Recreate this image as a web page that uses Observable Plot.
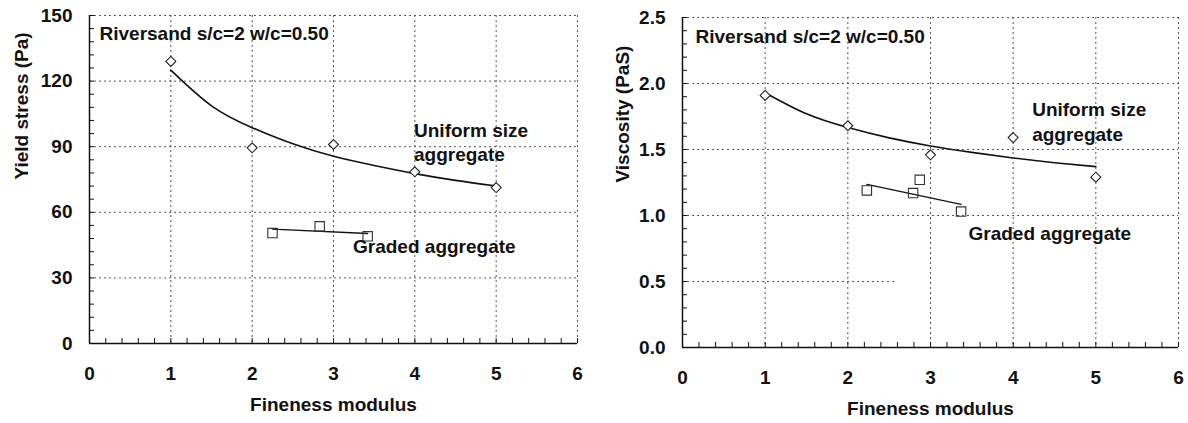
<!DOCTYPE html>
<html>
<head>
<meta charset="utf-8">
<script src="https://cdn.jsdelivr.net/npm/d3@7"></script>
<script src="https://cdn.jsdelivr.net/npm/@observablehq/plot@0.6"></script>
<style>
  html, body { margin: 0; padding: 0; background: #fff; }
  #wrap { display: flex; width: 1188px; height: 423px; }
</style>
</head>
<body>
<div id="wrap"></div>
<script>
// ---- data ----
const xTicks = [0, 1, 2, 3, 4, 5, 6];
const xMinor = d3.range(0, 6.001, 0.2);
const yieldTicks = [0, 30, 60, 90, 120, 150];
const yieldMinor = d3.range(0, 150.001, 6);
const viscTicks = [0, 0.5, 1.0, 1.5, 2.0, 2.5];
const viscMinor = d3.range(0, 2.5001, 0.1);

const uniformFM = [1, 2, 3, 4, 5];
const uniformYield = [129, 89.5, 91, 78.5, 71.3];
const uniformVisc = [1.91, 1.68, 1.46, 1.59, 1.29];

const gradedFMYield = [2.25, 2.83, 3.42];
const gradedYield = [50.5, 53.6, 49.0];
const gradedFMVisc = [2.23, 2.79, 2.87, 3.37];
const gradedVisc = [1.19, 1.17, 1.27, 1.03];

const fitFM = [1, 1.5, 2, 2.5, 3, 3.5, 4, 4.5, 5];
const fitYield = [125, 108.7, 98.7, 91.3, 85.6, 81.4, 77.7, 74.6, 72.0];
const fitVisc = [1.93, 1.77, 1.666, 1.588, 1.527, 1.478, 1.436, 1.40, 1.37];

const gradedFitFMYield = [2.25, 3.42];
const gradedFitYield = [52.3, 50.3];
const gradedFitFMVisc = [2.23, 3.37];
const gradedFitVisc = [1.235, 1.085];

const titleText = "Riversand s/c=2 w/c=0.50";
const xTitle = "Fineness modulus";
const yTitles = ["Yield stress (Pa)", "Viscosity (PaS)"];

// ---- helpers ----
const zip = (xs, ys) => xs.map((x, i) => ({x, y: ys[i]}));
const FONT = "'Liberation Sans', Arial, Helvetica, sans-serif";
const grid = {stroke: "#444", strokeWidth: 1, strokeDasharray: "2,3", strokeOpacity: 0.9};

function chart(o) {
  return Plot.plot({
    width: 594,
    height: 423,
    marginLeft: o.ml, marginRight: o.mr, marginTop: o.mt, marginBottom: o.mb,
    style: {fontFamily: FONT, fontWeight: "bold", fontSize: "19px", color: "#111", background: "white", overflow: "visible"},
    x: {domain: [0, 6]},
    y: {domain: o.yDomain},
    marks: [
      // dotted grid & frame top/right
      Plot.ruleX(xTicks.slice(1), {...grid}),
      ...o.yGridMarks,
      // minor / major inward ticks
      Plot.axisX({ticks: xMinor, tickSize: 5, dy: -5, text: null, label: null, stroke: "#111"}),
      Plot.axisY({ticks: o.yMinor, tickSize: 5, dx: 5, text: null, label: null, stroke: "#111"}),
      // tick labels
      Plot.axisX({ticks: xTicks, tickSize: 0, tickPadding: 23, label: null, tickFormat: d3.format("d"), fill: "#111"}),
      Plot.axisY({ticks: o.yTicks, tickSize: 0, tickPadding: 17, label: null, tickFormat: o.yFormat, fill: "#111"}),
      // solid axes
      Plot.ruleX([0], {stroke: "#111", strokeWidth: 1.5}),
      Plot.ruleY([0], {stroke: "#111", strokeWidth: 1.5}),
      // curves
      Plot.line(o.fit, {x: "x", y: "y", curve: "natural", stroke: "#111", strokeWidth: 1.6}),
      Plot.line(o.gfit, {x: "x", y: "y", stroke: "#111", strokeWidth: 1.3}),
      Plot.dot(o.uniform, {x: "x", y: "y", symbol: "diamond2", r: 4.5, stroke: "#222", strokeWidth: 1.1, fill: "white"}),
      Plot.dot(o.graded, {x: "x", y: "y", symbol: "square2", r: 6, stroke: "#333", strokeWidth: 1.1}),
      // annotations
      Plot.text([titleText], {frameAnchor: "top-left", dx: o.tdx, dy: o.tdy, textAnchor: "start", lineAnchor: "middle", fill: "#111"}),
      Plot.text(["Uniform size\naggregate"], {x: o.uLab[0], y: o.uLab[1], textAnchor: "start", lineAnchor: "middle", lineHeight: 1.3, fill: "#111"}),
      Plot.text(["Graded aggregate"], {x: o.gLab[0], y: o.gLab[1], textAnchor: "start", lineAnchor: "middle", fill: "#111"}),
      // axis titles
      Plot.text([xTitle], {frameAnchor: "bottom", dy: o.xtdy, lineAnchor: "middle", fill: "#111"}),
      Plot.text([o.yTitle], {frameAnchor: "left", dx: o.ytdx, rotate: -90, lineAnchor: "middle", fill: "#111"})
    ]
  });
}

const left = chart({
  ml: 89, mr: 17, mt: 15, mb: 80,
  yDomain: [0, 150],
  yTicks: yieldTicks, yMinor: yieldMinor, yFormat: d3.format("d"),
  yGridMarks: [Plot.ruleY(yieldTicks.slice(1), {...grid})],
  fit: zip(fitFM, fitYield),
  gfit: zip(gradedFitFMYield, gradedFitYield),
  uniform: zip(uniformFM, uniformYield),
  graded: zip(gradedFMYield, gradedYield),
  tdx: 10, tdy: 18,
  uLab: [3.99, 92.6], gLab: [3.24, 44.1],
  xtdy: 61, ytdx: -68,
  yTitle: yTitles[0]
});

const right = chart({
  ml: 88, mr: 10, mt: 17, mb: 76,
  yDomain: [0, 2.5],
  yTicks: viscTicks, yMinor: viscMinor, yFormat: d3.format(".1f"),
  yGridMarks: [
    Plot.ruleY([1.0, 1.5, 2.0, 2.5], {...grid}),
    Plot.ruleY([0.5], {x1: 0, x2: 2.57, ...grid})
  ],
  fit: zip(fitFM, fitVisc),
  gfit: zip(gradedFitFMVisc, gradedFitVisc),
  uniform: zip(uniformFM, uniformVisc),
  graded: zip(gradedFMVisc, gradedVisc),
  tdx: 13, tdy: 19,
  uLab: [4.23, 1.72], gLab: [3.46, 0.86],
  xtdy: 61, ytdx: -60,
  yTitle: yTitles[1]
});

const wrap = document.getElementById("wrap");
wrap.appendChild(left);
wrap.appendChild(right);
</script>
</body>
</html>
